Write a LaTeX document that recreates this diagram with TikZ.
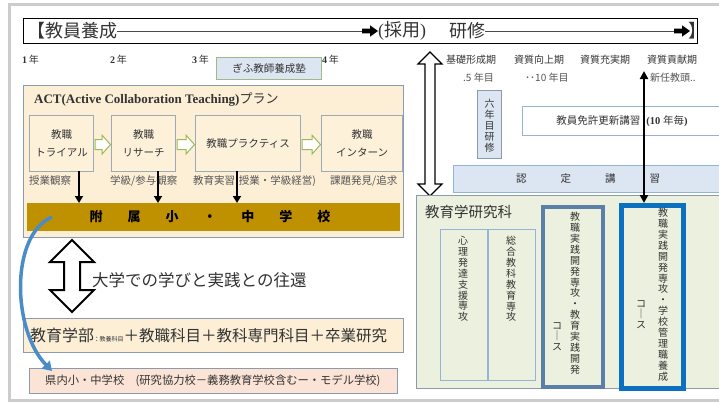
\documentclass[tikz,border=0pt]{standalone}
\usepackage{fontspec}
\setmainfont{Liberation Serif}
\newfontfamily\jp{Noto Sans CJK JP}
\usetikzlibrary{arrows.meta,calc}
\definecolor{cream}{HTML}{FCEFD6}
\definecolor{creamb}{HTML}{FDF1DA}
\definecolor{boxg}{HTML}{9DAAB6}
\definecolor{bgray}{HTML}{8A9BB0}
\definecolor{gold}{HTML}{BF9000}
\definecolor{peach}{HTML}{FBE4D5}
\definecolor{lgreen}{HTML}{EBF1DE}
\definecolor{lblue}{HTML}{DCE6F2}
\definecolor{sblue}{HTML}{95B3D7}
\definecolor{grnb}{HTML}{9BBB59}
\definecolor{gifub}{HTML}{A3B88A}
\definecolor{txt}{HTML}{333333}
\definecolor{lblc}{HTML}{555555}
\definecolor{curv}{HTML}{4A8CC8}
\definecolor{cthree}{HTML}{5B7FA6}
\definecolor{cfour}{HTML}{0B70C0}
\definecolor{framec}{HTML}{CCCCCC}
\begin{document}
\begin{tikzpicture}[x=1pt,y=-1pt,
  every node/.style={inner sep=0pt, text=txt},
  jt/.style={font=\jp\fontsize{#1}{#1}\selectfont},
  panel/.style={draw=bgray, line width=1pt, fill=cream, anchor=north west},
  actbox/.style={draw=boxg, line width=1.2pt, fill=creamb, anchor=north west, align=center, font=\jp\fontsize{10.5}{18}\selectfont},
  lbl/.style={font=\jp\fontsize{10.5}{10.5}\selectfont, text=lblc, anchor=west},
  vt/.style={font=\jp\fontsize{10}{10.9}\selectfont, align=center, anchor=north},
  downarr/.style={line width=2.5pt, -{Triangle[length=7pt,width=8pt]}},
  hollow/.style={draw=black, line width=2pt, fill=white, line join=miter},
  garrow/.style={draw=grnb, line width=1pt, fill=white},
  blk/.style={fill=black},
]
\clip (0,0) rectangle (719,404);
\fill[white] (0,0) rectangle (719,404);
\draw[framec, line width=3pt] (9,5) rectangle (740,400);

% title bar
\node[draw=black, line width=0.8pt, minimum width=674, minimum height=25, anchor=north west] (title) at (23,18) {};
\node[jt=18, anchor=west] (tA) at (27,31) {【教員養成};
\coordinate (arA) at (362,31);
\draw[line width=0.8pt, black!70] (tA.east) -- (arA);
\fill[blk] (arA) ++(0,-2.3) -- ++(8,0) -- ++(0,-3.4) -- ++(8,5.7) -- ++(-8,5.7) -- ++(0,-3.4) -- ++(-8,0) -- cycle;
\node[anchor=west, font=\fontsize{18}{18}\selectfont] (tB) at (378,31) {({\jp 採用})};
\node[jt=18, anchor=west] (tC) at (449,31) {研修};
\coordinate (arB) at (674,31);
\draw[line width=0.8pt, black!70] (tC.east) -- (arB);
\fill[blk] (arB) ++(0,-2.3) -- ++(8,0) -- ++(0,-3.4) -- ++(8,5.7) -- ++(-8,5.7) -- ++(0,-3.4) -- ++(-8,0) -- cycle;
\node[jt=18, anchor=west] (tD) at (688,31) {】};

% years
\node[anchor=west, font=\fontsize{10}{10}\selectfont] (y1) at (22,60) {\bfseries 1\,{\jp\mdseries 年}};
\node[anchor=west, font=\fontsize{10}{10}\selectfont] (y2) at (110,60) {\bfseries 2\,{\jp\mdseries 年}};
\node[anchor=west, font=\fontsize{10}{10}\selectfont] (y3) at (192,60) {\bfseries 3\,{\jp\mdseries 年}};
\node[anchor=west, font=\fontsize{10}{10}\selectfont] (y4) at (322,60) {\bfseries 4\,{\jp\mdseries 年}};
\node[draw=gifub, fill=lblue, line width=1pt, minimum width=105, minimum height=22, anchor=north west, jt=10.5] (gifu) at (216,57) {ぎふ教師養成塾};

% ACT panel
\node[panel, minimum width=380, minimum height=152] (act) at (23,85) {};
\node[anchor=west, font=\fontsize{13}{13}\selectfont\bfseries] (actt) at (34,100) {ACT(Active Collaboration Teaching){\jp\mdseries プラン}};
\node[actbox, minimum width=64, minimum height=56] (b1) at (29,115) {教職\\トライアル};
\node[actbox, minimum width=64, minimum height=56] (b2) at (111,115) {教職\\リサーチ};
\node[actbox, minimum width=105, minimum height=56] (b3) at (195,115) {教職プラクティス};
\node[actbox, minimum width=81, minimum height=56] (b4) at (321,115) {教職\\インターン};
\foreach \a/\b in {b1/b2,b2/b3,b3/b4}{
  \path[garrow] let \p1=(\a.east), \p2=(\b.west) in
   ({\x1+1pt},{\y1-6pt}) -- ({\x2-9pt},{\y1-6pt}) -- ({\x2-9pt},{\y1-10.5pt}) -- ({\x2-0.5pt},{\y1-1pt}) -- ({\x2-9pt},{\y1+8.5pt}) -- ({\x2-9pt},{\y1+4pt}) -- ({\x1+1pt},{\y1+4pt}) -- cycle;
}
\node[lbl] (l1) at (29,181) {授業観察};
\node[lbl] (l2) at (110,181) {学級/参与観察};
\node[lbl] (l3) at (193,181) {教育実習(授業・学級経営)};
\node[lbl] (l4) at (330,181) {課題発見/追求};
\node[fill=gold, minimum width=373, minimum height=28, anchor=north west] (bar) at (27,203) {};
\node[font=\jp\bfseries\fontsize{13}{13}\selectfont, text=black] (bart) at (210,217) {附\hspace{25pt}属\hspace{25pt}小\hspace{25pt}・\hspace{25pt}中\hspace{25pt}学\hspace{25pt}校};
\coordinate (d1) at (79,171);
\coordinate (d2) at (158,171);
\coordinate (d3) at (237,171);
\foreach \d in {d1,d2,d3}{
  \draw[downarr] (\d) -- (\d |- bar.north);
}

% big double hollow arrow
\coordinate (hA) at (72,240);
\coordinate (hB) at (72,312);
\path[hollow] (hA) -- ++(22,22) -- ++(-14,0) -- ++(0,28) -- ++(14,0) -- (hB) -- ++(-22,-22) -- ++(14,0) -- ++(0,-28) -- ++(-14,0) -- cycle;
\node[jt=16.5, anchor=west] (oukan) at (92,280) {大学での学びと実践との往還};

% faculty box
\node[panel, minimum width=380, minimum height=34] (fac) at (23,318) {};
\node[anchor=west] (fact) at (30,335) {{\jp\fontsize{16}{16}\selectfont 教育学部}{\fontsize{9}{9}\selectfont\,:\,}{\jp\fontsize{6}{6}\selectfont 教養科目}{\jp\fontsize{15.5}{15.5}\selectfont ＋教職科目＋教科専門科目＋卒業研究}};
\node[draw=bgray, fill=peach, line width=1pt, minimum width=368, minimum height=25, anchor=north west] (ken) at (29,368) {};
\node[jt=11.3, anchor=west] (kent) at (45,381) {県内小・中学校　(研究協力校－義務教育学校含むー・モデル学校)};

% blue curve
\coordinate (cs) at (52,217);
\coordinate (ce) at (52,371);
\draw[curv, line width=3.5pt, -{Triangle[length=9pt,width=11pt]}] (cs) .. controls (10,235) and (12,330) .. (ce);

% right side
\coordinate (rA) at (430,52);
\coordinate (rB) at (430,196);
\path[hollow, line width=1.2pt] (rA) -- ++(12,12) -- ++(-7,0) -- ++(0,120) -- ++(7,0) -- (rB) -- ++(-12,-12) -- ++(7,0) -- ++(0,-120) -- ++(-7,0) -- cycle;
\node[jt=10, anchor=west] (p1) at (446,60) {基礎形成期};
\node[jt=10, anchor=west] (p2) at (514,60) {資質向上期};
\node[jt=10, anchor=west] (p3) at (580,60) {資質充実期};
\node[jt=10, anchor=west] (p4) at (647,60) {資質貢献期};
\node[jt=10, anchor=west, text=lblc] (q1) at (463,78) {.5 年目};
\node[jt=10, anchor=west, text=lblc] (q2) at (525,78) {･･10 年目};
\node[jt=10, anchor=west, text=lblc] (q3) at (650,78) {新任教頭..};
\node[draw=bgray, fill=lblue, line width=1pt, minimum width=24, minimum height=68, anchor=north west] (six) at (477,90) {};
\node[vt] (sixt) at (six.north) [yshift=-9pt] {六\\年\\目\\研\\修};
\node[draw=sblue, fill=white, line width=1pt, minimum width=215, minimum height=29, anchor=north west] (menkyo) at (522,106) {};
\node[anchor=center] (menkyot) at (622,121) {{\jp\fontsize{10.5}{10.5}\selectfont 教員免許更新講習}\hspace{6pt}{\fontsize{10.5}{10.5}\selectfont\bfseries (10 {\jp\mdseries 年毎})}};
\node[draw=sblue, fill=lblue, line width=1pt, minimum width=285, minimum height=27, anchor=north west] (nintei) at (453,165) {};
\node[jt=10.5] (nint) at (588,179) {認\hspace{34pt}定\hspace{34pt}講\hspace{34pt}習};

% graduate school
\node[panel, fill=lgreen, minimum width=320, minimum height=193] (grad) at (416,195) {};
\node[jt=14.5, anchor=west] (gradt) at (425,212) {教育学研究科};
\node[draw=sblue, fill=lgreen, line width=1.2pt, minimum width=47, minimum height=151, anchor=north west] (k1) at (440,229) {};
\node[draw=sblue, fill=lgreen, line width=1.2pt, minimum width=47, minimum height=151, anchor=north west] (k2) at (488,229) {};
\node[draw=cthree, fill=lgreen, line width=3.5pt, minimum width=60, minimum height=180, anchor=north west] (k3) at (541,205) {};
\node[draw=cfour, fill=lgreen, line width=5pt, minimum width=62, minimum height=183, anchor=north west] (k4) at (619,203) {};
\node[vt] (k1t) at (463,236) {心\\理\\発\\達\\支\\援\\専\\攻};
\node[vt] (k2t) at (511,236) {総\\合\\教\\科\\教\\育\\専\\攻};
\node[vt] (k3t) at (575,212) {教\\職\\実\\践\\開\\発\\専\\攻\\・\\教\\育\\実\\践\\開\\発};
\node[vt] (k3c) at (557,322) {コ\\｜\\ス};
\node[vt] (k4t) at (663,208) {教\\職\\実\\践\\開\\発\\専\\攻\\・\\学\\校\\管\\理\\職\\養\\成};
\node[vt] (k4c) at (641,300) {コ\\｜\\ス};

% black double arrow
\coordinate (bA) at (644,71);
\draw[line width=2.2pt, {Triangle[length=8pt,width=8pt]}-{Triangle[length=8pt,width=8pt]}] (bA) -- (bA |- k4.north);
\end{tikzpicture}
\end{document}
